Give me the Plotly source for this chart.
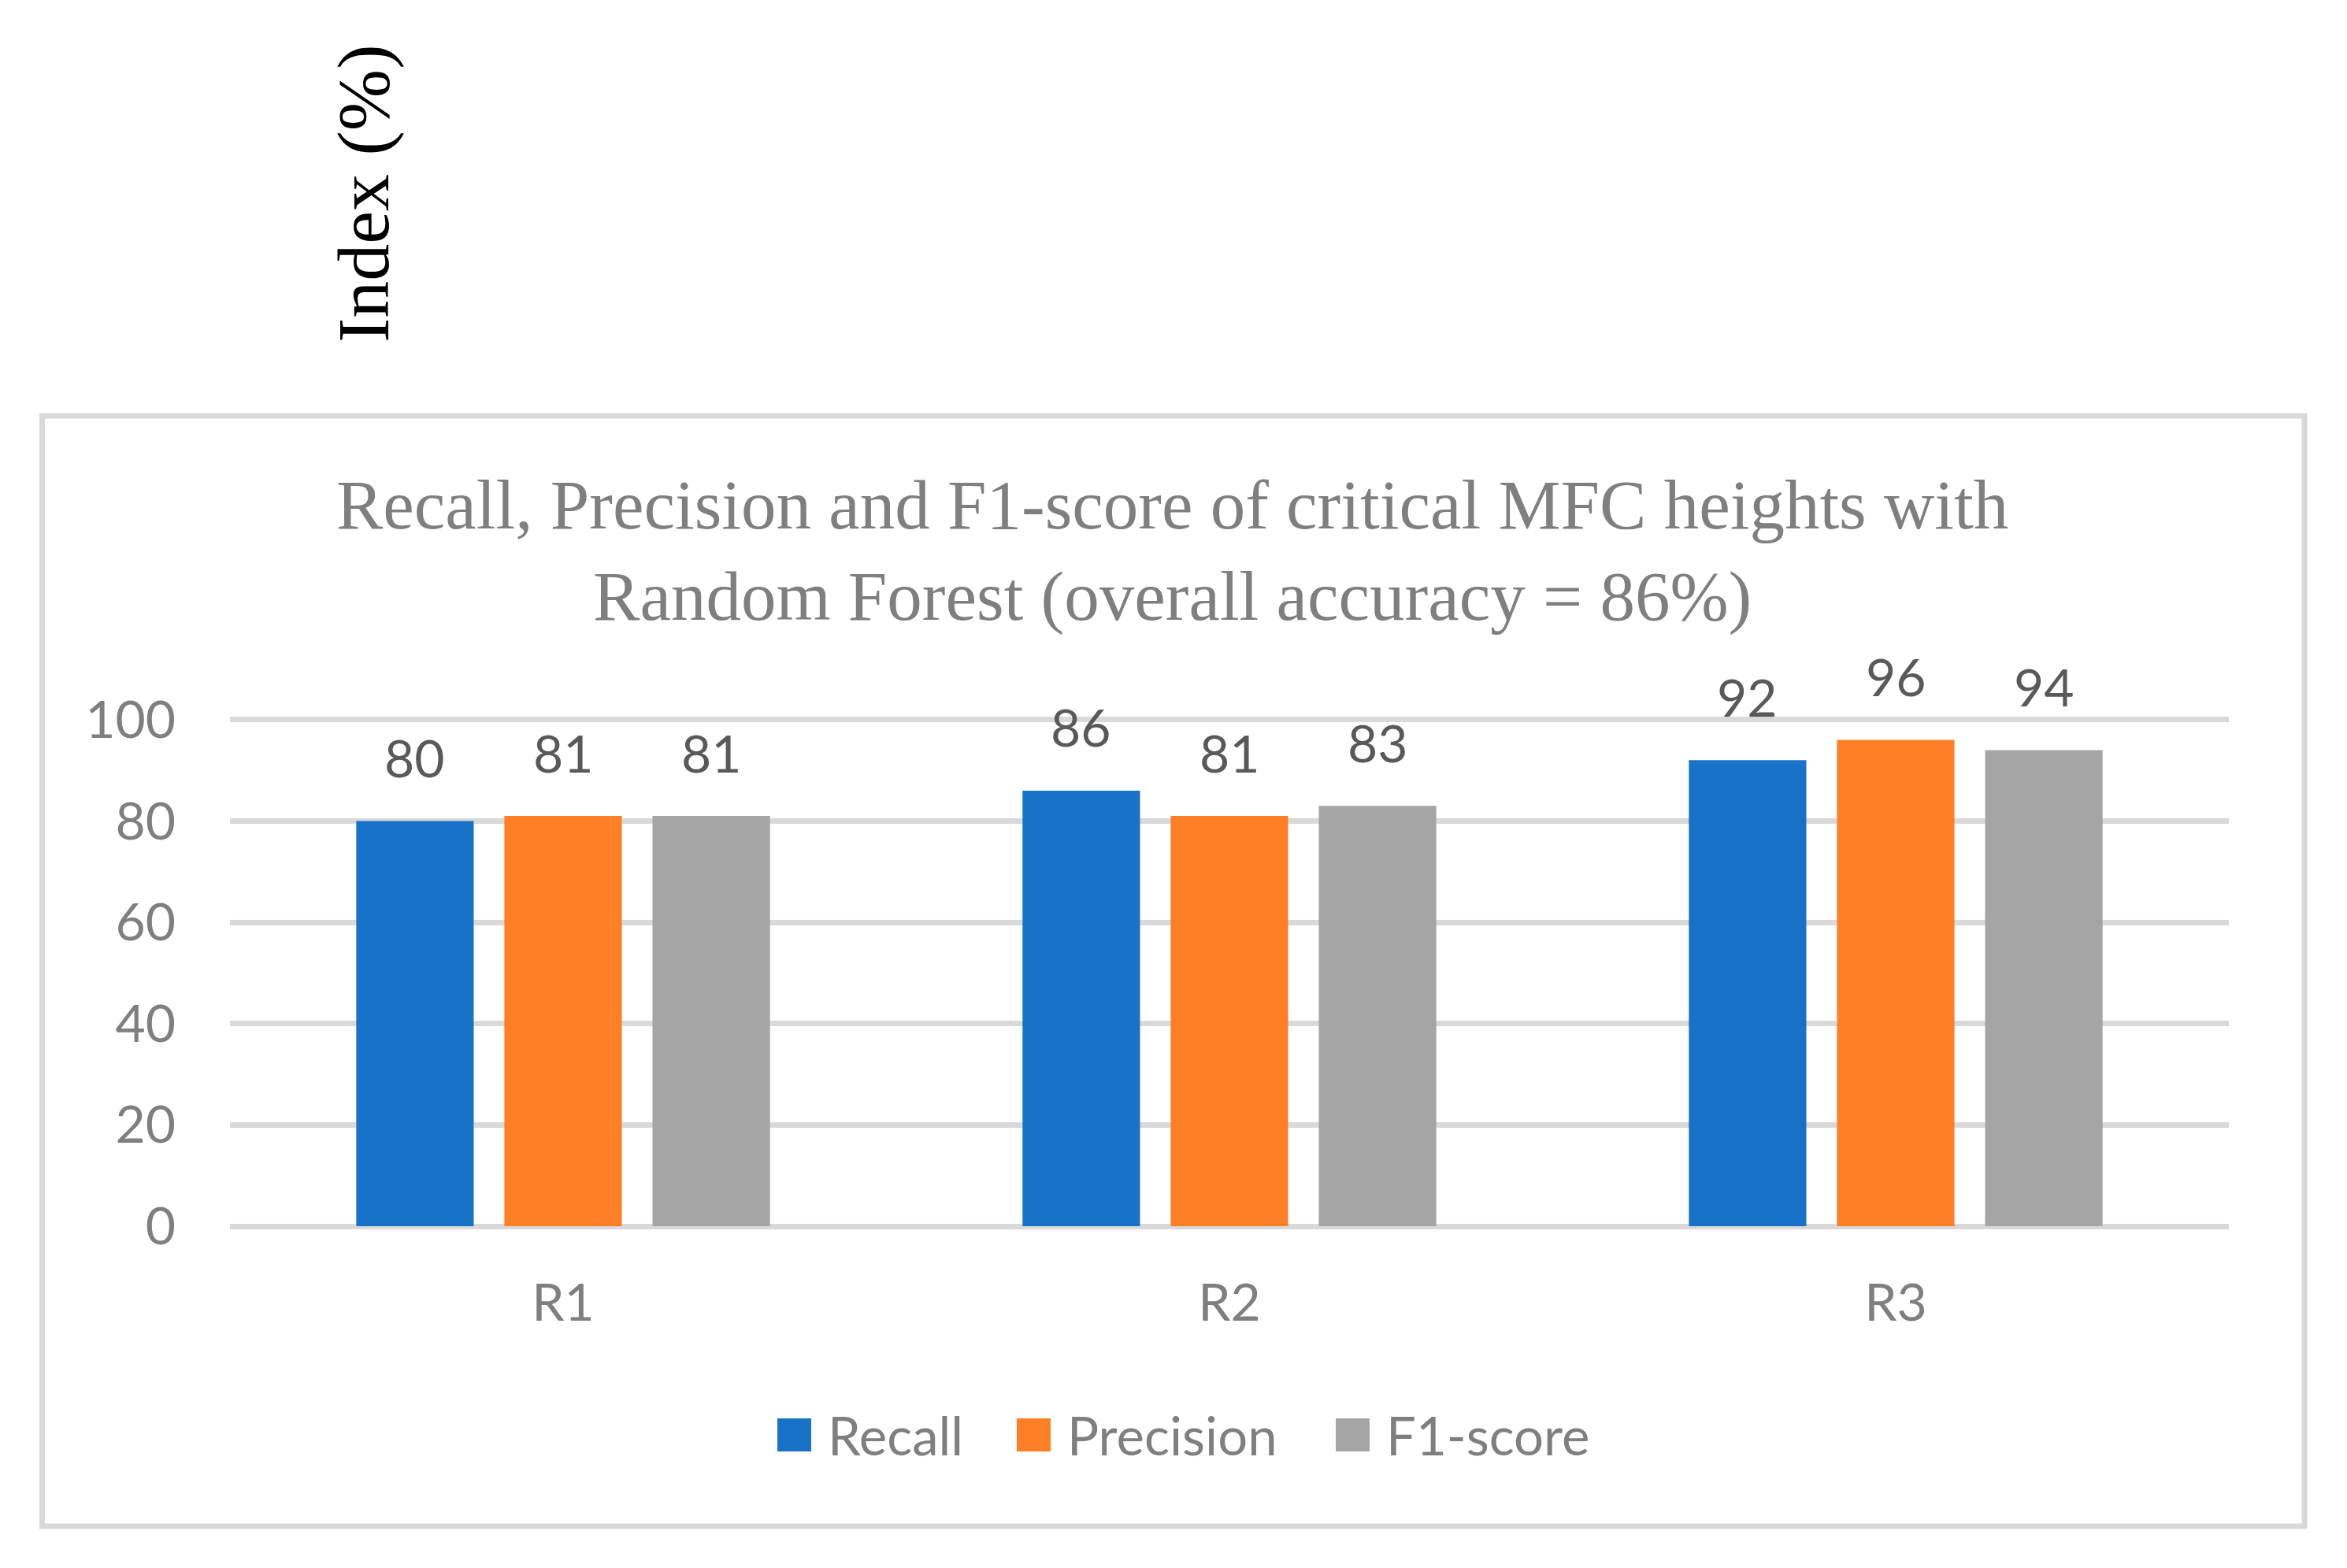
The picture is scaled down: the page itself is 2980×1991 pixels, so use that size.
import plotly.graph_objects as go

# ---------------- data ----------------
categories = ["R1", "R2", "R3"]
recall = [80, 86, 92]
precision = [81, 81, 96]
f1_score = [81, 83, 94]
series_names = ["Recall", "Precision", "F1-score"]
series_values = [recall, precision, f1_score]
series_colors = ["#1873C8", "#FF7F27", "#A5A5A5"]
y_ticks = [0, 20, 40, 60, 80, 100]
title_lines = ["Recall, Precision and F1-score of critical MFC heights with",
               "Random Forest (overall accuracy = 86%)"]
y_title = "Index (%)"

# ---------------- layout geometry ----------------
W, H = 2964, 1975
OFF = 8                      # default page body margin
Y_TOP = 100.6                # small headroom so the 100 gridline is drawn
L, R, B = 284, 142, 426
T = int(round(906 - (Y_TOP - 100) * 6.425))
PW = W - L - R
PH = H - T - B
BARGAP = 0.333
GROUPGAP = 0.207

SANS = "Lato"
SERIF = "Liberation Serif"
GRID = "#D9D9D9"


def px(x):
    """reference-image pixel x -> paper x"""
    return (x - OFF - L) / PW


def py(y):
    """reference-image pixel y -> paper y"""
    return (H - B - (y - OFF)) / PH


fig = go.Figure()
for name, vals, col in zip(series_names, series_values, series_colors):
    fig.add_trace(go.Bar(name=name, x=categories, y=vals,
                         marker=dict(color=col, line=dict(width=0)),
                         showlegend=False, hoverinfo="x+y+name"))

annotations = []
slot = PW / len(categories) * (1 - BARGAP) / len(series_names)
for i, vals in enumerate(series_values):
    for cat, v in zip(categories, vals):
        annotations.append(dict(
            x=cat, y=v, xref="x", yref="y", text=str(v), showarrow=False,
            xshift=(i - (len(series_names) - 1) / 2) * slot, yshift=81,
            yanchor="middle", xanchor="center",
            font=dict(family=SANS, size=66, color="#595959")))

# title
annotations.append(dict(
    x=px(1488), y=py(699), xref="paper", yref="paper",
    text="<br>".join(title_lines), showarrow=False,
    xanchor="center", yanchor="middle", align="center",
    font=dict(family=SERIF, size=89, color="#7F7F7F")))

# rotated axis title above the chart box
annotations.append(dict(
    x=px(461), y=py(246), xref="paper", yref="paper",
    text=y_title, showarrow=False, textangle=-90,
    xanchor="center", yanchor="middle",
    font=dict(family=SERIF, size=94, color="#000000")))

shapes = [dict(type="rect", xref="paper", yref="paper",
               x0=px(53.5), x1=px(2926), y0=py(1938), y1=py(528),
               line=dict(color=GRID, width=7), fillcolor="rgba(0,0,0,0)",
               layer="below")]

# legend (manual, large swatches)
legend_text_x = [1049, 1353, 1758]
for name, col, tx in zip(series_names, series_colors, legend_text_x):
    shapes.append(dict(type="rect", xref="paper", yref="paper",
                       x0=px(tx - 62), x1=px(tx - 19), y0=py(1843), y1=py(1801),
                       line=dict(width=0), fillcolor=col))
    annotations.append(dict(
        x=px(tx), y=py(1822), xref="paper", yref="paper", text=name,
        showarrow=False, xanchor="left", yanchor="middle",
        font=dict(family=SANS, size=67, color="#7F7F7F")))

fig.update_layout(
    width=W, height=H, autosize=False,
    margin=dict(l=L, r=R, t=T, b=B, pad=0),
    paper_bgcolor="white", plot_bgcolor="white",
    barmode="group", bargap=BARGAP, bargroupgap=GROUPGAP,
    showlegend=False,
    annotations=annotations, shapes=shapes,
    font=dict(family=SANS, color="#7F7F7F"),
)
fig.update_xaxes(type="category", showgrid=False, showline=False, zeroline=False,
                 ticks="", ticklabelstandoff=53,
                 tickfont=dict(family=SANS, size=66, color="#7F7F7F"))
fig.update_yaxes(range=[0, Y_TOP], tickvals=y_ticks, showgrid=True, gridcolor=GRID,
                 gridwidth=7, zeroline=True, zerolinecolor=GRID, zerolinewidth=7,
                 showline=False, ticks="", ticklabelstandoff=68,
                 tickfont=dict(family=SANS, size=66, color="#7F7F7F"))

fig.write_html("out.html")
